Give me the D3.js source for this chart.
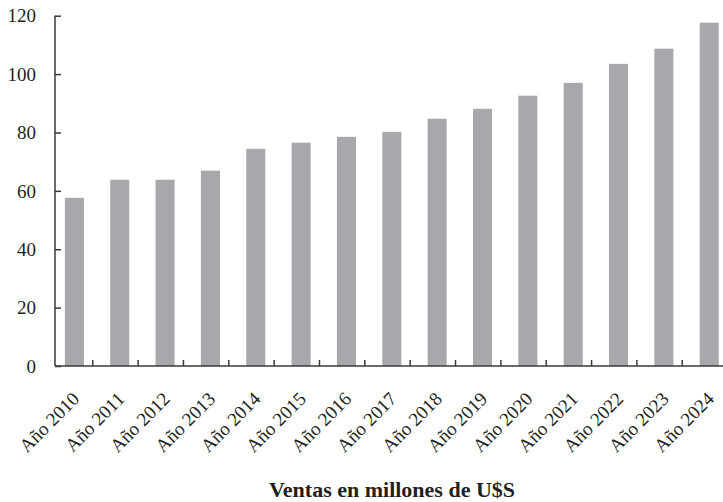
<!DOCTYPE html>
<html>
<head>
<meta charset="utf-8">
<script src="https://cdn.jsdelivr.net/npm/d3@7"></script>
<style>
  html, body { margin: 0; padding: 0; background: #fff; }
  svg { display: block; }
</style>
</head>
<body>
<div id="chart"></div>
<script>
const categories = ["Año 2010","Año 2011","Año 2012","Año 2013","Año 2014","Año 2015","Año 2016","Año 2017","Año 2018","Año 2019","Año 2020","Año 2021","Año 2022","Año 2023","Año 2024"];
const ventas = [57.6, 63.8, 63.8, 66.9, 74.4, 76.5, 78.5, 80.2, 84.7, 88.1, 92.6, 97.0, 103.5, 108.7, 117.6];
const yTicks = [0, 20, 40, 60, 80, 100, 120];
const xTitle = "Ventas en millones de U$S";

const W = 723, H = 502;
const axisX = 55, axisY = 366, topY = 15.7;
const FONT = "'Liberation Serif', 'DejaVu Serif', 'Times New Roman', serif";

const svg = d3.select("#chart").append("svg").attr("width", W).attr("height", H);

const x = d3.scaleBand().domain(categories).range([47.4, 727.6]).padding(0);
const y = d3.scaleLinear().domain([0, 120]).range([axisY, topY]);

const axisColor = "#3a3a3a";
const bw = x.bandwidth();

// bars
svg.append("g").selectAll("rect").data(categories).join("rect")
  .attr("x", d => x(d) + bw * 0.385)
  .attr("width", bw * 0.42)
  .attr("y", (d, i) => y(ventas[i]))
  .attr("height", (d, i) => axisY - y(ventas[i]))
  .attr("fill", "#a7a8ab");

// y axis
const yAxis = d3.axisLeft(y).tickValues(yTicks).tickSize(-6).tickFormat(d3.format("d"));
const gy = svg.append("g").attr("transform", `translate(${axisX},0)`).call(yAxis);
gy.attr("font-family", null).attr("font-size", null);
gy.select(".domain").remove();
gy.selectAll(".tick line").attr("stroke", axisColor).attr("stroke-width", 1.5);
gy.selectAll(".tick text")
  .style("font-family", FONT).style("font-size", "19px").attr("fill", "#231f20")
  .attr("x", -19).attr("dy", "0.33em");
svg.append("line").attr("x1", axisX).attr("x2", axisX).attr("y1", y(120)).attr("y2", axisY)
  .attr("stroke", axisColor).attr("stroke-width", 1.5);

// x axis line
svg.append("line").attr("x1", axisX).attr("x2", W).attr("y1", axisY).attr("y2", axisY)
  .attr("stroke", axisColor).attr("stroke-width", 1.5);

// x ticks at category boundaries
svg.append("g").selectAll("line").data(categories.slice(1)).join("line")
  .attr("x1", d => x(d)).attr("x2", d => x(d))
  .attr("y1", axisY).attr("y2", axisY - 6)
  .attr("stroke", axisColor).attr("stroke-width", 1.5);

// x labels
svg.append("g").selectAll("text").data(categories).join("text")
  .attr("transform", d => `translate(${x(d) + bw * 0.595 + 6},${axisY + 34}) rotate(-45)`)
  .attr("text-anchor", "end")
  .style("font-family", FONT).style("font-size", "19px").attr("fill", "#231f20")
  .text(d => d);

// title
svg.append("text").attr("x", 392).attr("y", 497).attr("text-anchor", "middle")
  .style("font-family", FONT).style("font-size", "22px").style("font-weight", "bold")
  .attr("fill", "#231f20").text(xTitle);
</script>
</body>
</html>
